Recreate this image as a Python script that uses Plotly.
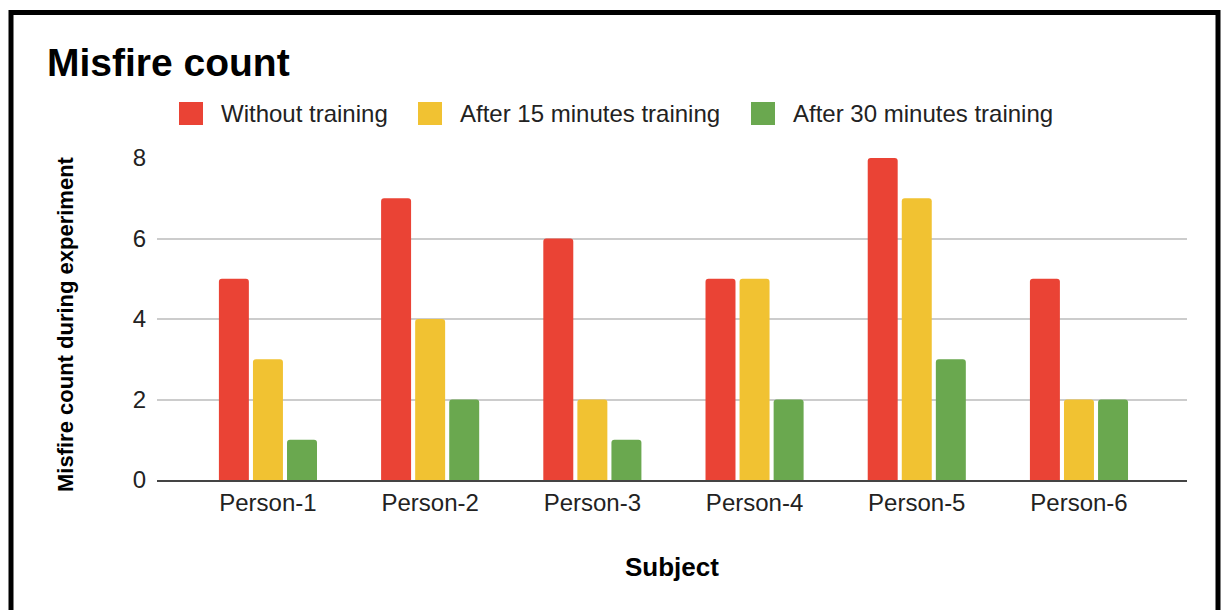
import plotly.graph_objects as go

# ---- data ----
subjects = ["Person-1", "Person-2", "Person-3", "Person-4", "Person-5", "Person-6"]
series_names = ["Without training", "After 15 minutes training", "After 30 minutes training"]
without_training = [5, 7, 6, 5, 8, 5]
after_15_min = [3, 4, 2, 5, 7, 2]
after_30_min = [1, 2, 1, 2, 3, 2]
y_ticks = [0, 2, 4, 6, 8]

# ---- style ----
colors = ["#EA4335", "#F1C232", "#6AA84F"]
FONT = "Arial, Liberation Sans, sans-serif"
W, H = 1221, 610
L, R, T, B = 157, 1187, 158, 480  # plot area in pixels


def px(x):
    return (x - L) / (R - L)


def py(y):
    return (B - y) / (B - T)


fig = go.Figure()
for name, vals, col in zip(series_names, [without_training, after_15_min, after_30_min], colors):
    fig.add_trace(go.Bar(
        x=subjects, y=vals, name=name,
        marker=dict(color=col, line=dict(width=0), cornerradius=3),
        showlegend=False,
    ))

annotations = []
shapes = []

# title
annotations.append(dict(text="Misfire count", xref="paper", yref="paper",
                        x=px(45), y=py(62), xanchor="left", yanchor="middle",
                        showarrow=False, font=dict(family=FONT, size=39, color="#000", weight="bold")))

# legend (manual, large square swatches)
legend_x = [179, 418, 751]
for name, col, lx in zip(series_names, colors, legend_x):
    shapes.append(dict(type="rect", xref="paper", yref="paper",
                       x0=px(lx), x1=px(lx + 24), y0=py(125), y1=py(102),
                       fillcolor=col, line=dict(width=0)))
    annotations.append(dict(text=name, xref="paper", yref="paper",
                            x=px(lx + 40), y=py(114), xanchor="left", yanchor="middle",
                            showarrow=False, font=dict(family=FONT, size=24, color="#222")))

# axis titles
annotations.append(dict(text="Misfire count during experiment", xref="paper", yref="paper",
                        x=px(65), y=py(324), xanchor="center", yanchor="middle", textangle=-90,
                        showarrow=False, font=dict(family=FONT, size=22, color="#000", weight="bold")))
annotations.append(dict(text="Subject", xref="paper", yref="paper",
                        x=px(672), y=py(567), xanchor="center", yanchor="middle",
                        showarrow=False, font=dict(family=FONT, size=26, color="#000", weight="bold")))

# outer black frame
shapes.append(dict(type="rect", xref="paper", yref="paper",
                   x0=px(11), x1=px(1218), y0=py(650), y1=py(12.5),
                   line=dict(color="#000", width=5), fillcolor="rgba(0,0,0,0)", layer="above"))

fig.update_layout(
    width=W, height=H,
    margin=dict(l=L, r=W - R, t=T, b=H - B, pad=0),
    paper_bgcolor="white", plot_bgcolor="white",
    barmode="group", bargap=0.37, bargroupgap=0.12,
    font=dict(family=FONT, color="#222"),
    annotations=annotations, shapes=shapes,
    xaxis=dict(range=[-0.684, 5.666], showgrid=False, showline=True, linecolor="#444", linewidth=1.5,
               ticks="", tickfont=dict(size=24, color="#222"), ticklabelstandoff=0, zeroline=False,
               fixedrange=True),
    yaxis=dict(range=[0, 8], tickvals=y_ticks, showgrid=True, gridcolor="#CCCCCC", gridwidth=1.5,
               zeroline=False, showline=False, ticks="", tickfont=dict(size=24, color="#222"),
               ticklabelstandoff=10, fixedrange=True),
)

fig.write_html("out.html",
               config={"displayModeBar": False},
               post_script="document.body.style.margin='0';document.body.style.padding='0';"
                           "document.body.style.overflow='hidden';")
